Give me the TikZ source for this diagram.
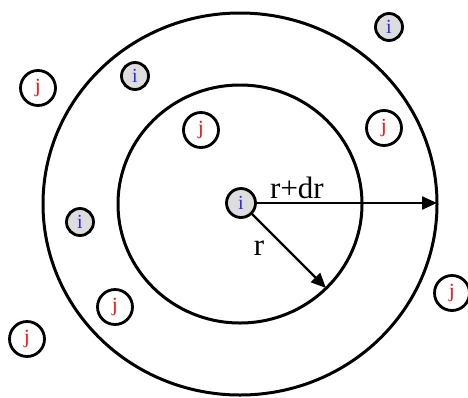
\documentclass[tikz,border=0pt]{standalone}
\usepackage{fontspec}
\setmainfont{Liberation Serif}
\usepackage{xcolor}
\usetikzlibrary{arrows.meta,positioning}

\definecolor{igrey}{RGB}{221,221,221}
\definecolor{iblue}{RGB}{40,40,255}

\tikzset{
  ring/.style={line width=3pt},
  jnode/.style={circle,draw,line width=2.8pt,minimum size=35pt,inner sep=0pt,
    text=red,font=\fontsize{20}{22}\selectfont},
  inode/.style={circle,draw,line width=2.8pt,fill=igrey,minimum size=27pt,inner sep=0pt,
    text=iblue,font=\fontsize{20}{22}\selectfont},
  radius/.style={line width=2.3pt,-{Triangle[length=15pt,width=13pt]}},
  lbl/.style={anchor=base,inner sep=0pt,font=\fontsize{31}{36}\selectfont}
}

\begin{document}
\begin{tikzpicture}[x=1pt,y=-1pt]
\useasboundingbox (0,0) rectangle (468,397);
% shells around the centre particle
\coordinate (c) at (240,204);
\draw[ring] (c) ellipse (197 and 191);
\draw[ring] (c) ellipse (122 and 119);
\coordinate (rend) at (326,288);
\coordinate (drend) at (437,203);
% particles
\node[inode,minimum size=29pt] (i0) at (241,203) {i};
\node[inode] (i1) at (135,76) {i};
\node[inode] (i2) at (389,27) {i};
\node[inode] (i3) at (80,222) {i};
\node[jnode] (j1) at (38,88) {j};
\node[jnode] (j2) at (201,130) {j};
\node[jnode] (j3) at (384,128) {j};
\node[jnode] (j4) at (115,307) {j};
\node[jnode] (j5) at (27,339) {j};
\node[jnode] (j6) at (452,293) {j};
% radii
\draw[radius] (i0) -- (drend);
\draw[radius] (i0) -- (rend);
\node[lbl] (lrdr) at (297,198) {r+dr};
\node[lbl] (lr) at (259,255) {r};
\end{tikzpicture}
\end{document}
